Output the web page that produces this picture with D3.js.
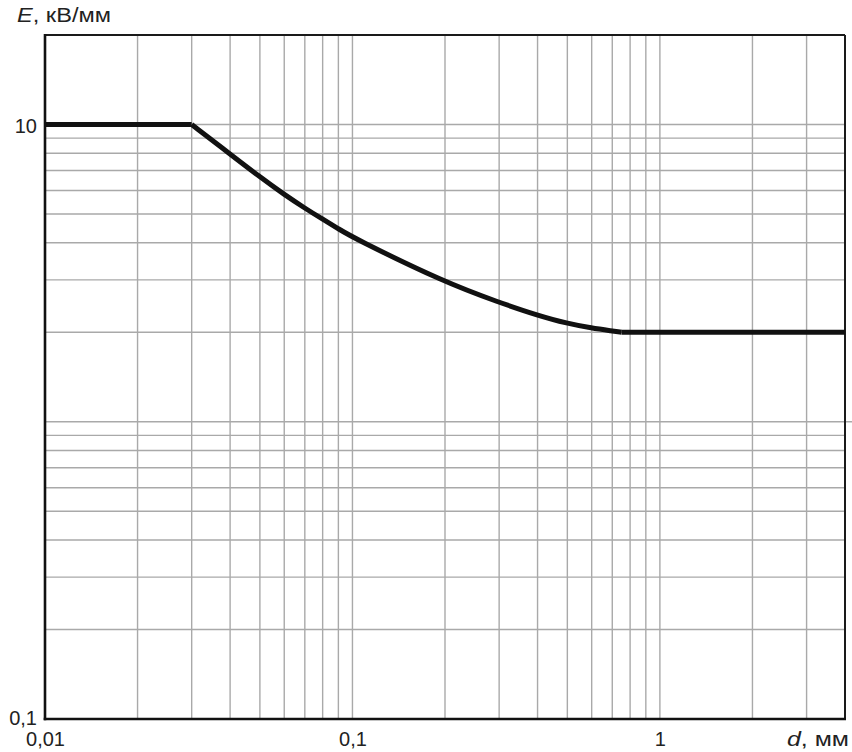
<!DOCTYPE html>
<html>
<head>
<meta charset="utf-8">
<script src="https://cdn.jsdelivr.net/npm/d3@7"></script>
<style>
  html, body { margin: 0; padding: 0; background: #fff; }
  svg { display: block; font-family: "Liberation Sans", Arial, sans-serif; }
</style>
</head>
<body>
<svg id="chart" width="852" height="752"></svg>
<script>
// Data (d in mm, E in kV/mm)
const plateauHigh = [[0.01, 10], [0.03, 10]];
const curveD = [0.03, 0.04, 0.05, 0.06, 0.07, 0.08, 0.09, 0.1, 0.2, 0.3, 0.4, 0.5, 0.6, 0.7, 0.75];
const curveE = [10, 7.95, 6.66, 5.81, 5.23, 4.80, 4.46, 4.17, 2.94, 2.52, 2.28, 2.14, 2.065, 2.02, 2.0];
const plateauLow = [[0.75, 2], [4, 2]];

const xDomain = [0.01, 4];
const yDomain = [0.1, 20];
const xGrid = [0.02, 0.03, 0.04, 0.05, 0.06, 0.07, 0.08, 0.09, 0.1, 0.2, 0.3, 0.4, 0.5, 0.6, 0.7, 0.8, 0.9, 1, 2, 3];
const yGrid = [0.2, 0.3, 0.4, 0.5, 0.6, 0.7, 0.8, 0.9, 1, 2, 3, 4, 5, 6, 7, 8, 9, 10];
const xTicks = [0.01, 0.1, 1];
const xTickLabels = ["0,01", "0,1", "1"];
const yTicks = [0.1, 10];
const yTickLabels = ["0,1", "10"];

const margin = {left: 45, right: 7, top: 35, bottom: 33};
const W = 852, H = 752;
const iw = W - margin.left - margin.right;
const ih = H - margin.top - margin.bottom;

const svg = d3.select("#chart");
const g = svg.append("g").attr("transform", `translate(${margin.left},${margin.top})`);

const x = d3.scaleLog().domain(xDomain).range([0, iw]);
const y = d3.scaleLog().domain(yDomain).range([ih, 0]);

// grid
g.append("g").selectAll("line").data(xGrid).join("line")
  .attr("x1", d => x(d)).attr("x2", d => x(d))
  .attr("y1", 0).attr("y2", ih)
  .attr("stroke", "#a9a9a9").attr("stroke-width", 1.4);
g.append("g").selectAll("line").data(yGrid).join("line")
  .attr("x1", 0).attr("x2", d => d === 1 ? iw + 7 : iw)
  .attr("y1", d => y(d)).attr("y2", d => y(d))
  .attr("stroke", "#a9a9a9").attr("stroke-width", 1.4);

// frame
g.append("line").attr("x1", 0).attr("x2", iw).attr("y1", 0).attr("y2", 0)
  .attr("stroke", "#1a1a1a").attr("stroke-width", 2);
g.append("line").attr("x1", iw).attr("x2", iw).attr("y1", 0).attr("y2", ih)
  .attr("stroke", "#1a1a1a").attr("stroke-width", 2);
g.append("line").attr("x1", 0).attr("x2", 0).attr("y1", -1).attr("y2", ih + 1.2)
  .attr("stroke", "#111").attr("stroke-width", 2.6);
g.append("line").attr("x1", -1.3).attr("x2", iw + 1).attr("y1", ih).attr("y2", ih)
  .attr("stroke", "#111").attr("stroke-width", 2.6);

// curve
const lineLin = d3.line().x(d => x(d[0])).y(d => y(d[1]));
const lineSmooth = d3.line().x(d => x(d[0])).y(d => y(d[1])).curve(d3.curveBasis);
const curvePts = curveD.map((d, i) => [d, curveE[i]]);
const curveStyle = sel => sel.attr("fill", "none").attr("stroke", "#111")
  .attr("stroke-width", 5).attr("stroke-linejoin", "round").attr("stroke-linecap", "butt");
g.append("path").attr("d", lineLin(plateauHigh)).call(curveStyle);
g.append("path").attr("d", lineSmooth(curvePts)).call(curveStyle);
g.append("path").attr("d", lineLin(plateauLow)).call(curveStyle);

// axes (labels only)
const xAxis = d3.axisBottom(x).tickValues(xTicks).tickSize(0)
  .tickFormat((d, i) => xTickLabels[i]);
const xa = g.append("g").attr("transform", `translate(0,${ih})`).call(xAxis);
xa.select(".domain").remove();
xa.selectAll("text").attr("font-size", 20).attr("fill", "#222")
  .attr("font-family", "'Liberation Sans', Arial, sans-serif")
  .attr("dy", null).attr("y", 26.5);

const yAxis = d3.axisLeft(y).tickValues(yTicks).tickSize(0)
  .tickFormat((d, i) => yTickLabels[i]);
const ya = g.append("g").call(yAxis);
ya.select(".domain").remove();
ya.selectAll("text").attr("font-size", 20).attr("fill", "#222")
  .attr("font-family", "'Liberation Sans', Arial, sans-serif")
  .attr("x", -8)
  .attr("dy", d => d === 0.1 ? "0.25em" : "0.42em");

// axis titles
const yt = svg.append("text").attr("x", 17).attr("y", 22).attr("font-size", 20).attr("fill", "#222")
  .attr("textLength", 94).attr("lengthAdjust", "spacingAndGlyphs");
yt.append("tspan").attr("font-style", "italic").text("E");
yt.append("tspan").text(", кВ/мм");

const xt = svg.append("text").attr("x", 787).attr("y", 745.5).attr("font-size", 20)
  .attr("fill", "#222").attr("textLength", 62).attr("lengthAdjust", "spacingAndGlyphs");
xt.append("tspan").attr("font-style", "italic").text("d");
xt.append("tspan").text(", мм");
</script>
</body>
</html>
